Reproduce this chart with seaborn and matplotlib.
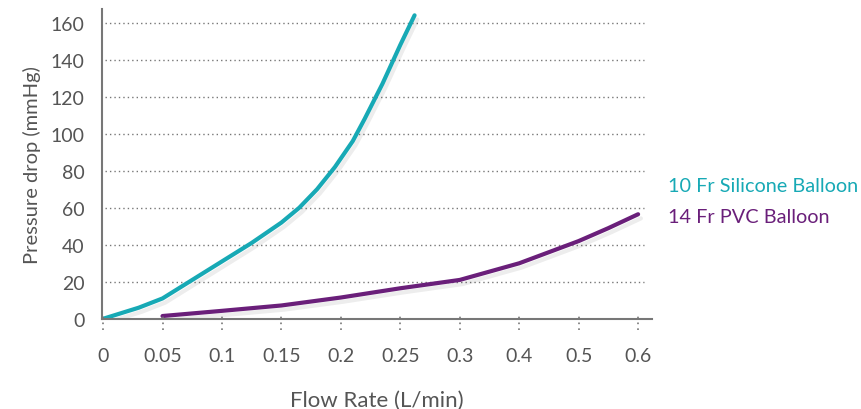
import numpy as np
import pandas as pd
import seaborn as sns
import matplotlib.pyplot as plt
import matplotlib.patheffects as pe

# Data
x_ticks = [0, 0.05, 0.1, 0.15, 0.2, 0.25, 0.3, 0.4, 0.5, 0.6]
y_ticks = [0, 20, 40, 60, 80, 100, 120, 140, 160]

silicone_flow = [0, 0.03, 0.05, 0.075, 0.1, 0.125, 0.15, 0.165, 0.18, 0.195, 0.21, 0.22, 0.235, 0.25, 0.262]
silicone_pressure = [0, 6, 11, 21, 31, 41, 52, 60, 70, 82, 96, 108, 127, 148, 164]

pvc_flow = [0.05, 0.1, 0.15, 0.2, 0.25, 0.3, 0.35, 0.4, 0.45, 0.5, 0.55, 0.6]
pvc_pressure = [1.5, 4.3, 7.2, 11.5, 16.5, 21, 25.5, 30, 36, 42, 49, 56.5]

names = ["10 Fr Silicone Balloon", "14 Fr PVC Balloon"]
colors = ["#17a9b5", "#6a1f7a"]

# the x axis is not linear: ticks are evenly spaced, so map flow -> tick position
tick_pos = np.arange(len(x_ticks))
def to_pos(flow):
    return np.interp(flow, x_ticks, tick_pos)

df = pd.concat([
    pd.DataFrame({"pos": to_pos(silicone_flow), "pressure": silicone_pressure, "series": names[0]}),
    pd.DataFrame({"pos": to_pos(pvc_flow), "pressure": pvc_pressure, "series": names[1]}),
])

sns.set_style("white")
plt.rcParams['font.family'] = ['Lato', 'DejaVu Sans']

fig = plt.figure(figsize=(8.61, 4.10), dpi=100)
ax = fig.add_axes([0.119, 0.22, 0.638, 0.756])

sns.lineplot(data=df, x="pos", y="pressure", hue="series", palette=colors,
             linewidth=3, sort=False, legend=False, ax=ax)
for line in ax.lines:
    line.set_solid_capstyle("round")
    line.set_solid_joinstyle("round")
    line.set_path_effects([pe.SimpleLineShadow(offset=(2, -3), shadow_color="k", alpha=0.07),
                           pe.Normal()])

ax.set_xlim(-0.01, 9.23)
ax.set_ylim(0, 167.5)
ax.set_xticks(tick_pos)
ax.set_xticklabels([f"{v:g}" for v in x_ticks])
ax.set_yticks(y_ticks)

# dotted horizontal grid
for y in y_ticks[1:]:
    ax.axhline(y, xmin=0.005, xmax=0.985, color="#777777", linewidth=1, linestyle=(0, (1, 2.2)), zorder=0)

# dotted tick marks through the x axis
ax.vlines(tick_pos, -0.035, 0.02, transform=ax.get_xaxis_transform(), colors="#777777",
          linewidth=1.2, linestyles=(0, (1, 2.5)), clip_on=False)

for s in ["top", "right"]:
    ax.spines[s].set_visible(False)
for s in ["left", "bottom"]:
    ax.spines[s].set_color("#777777")
    ax.spines[s].set_linewidth(1.5)

ax.tick_params(axis="both", length=0, labelsize=14, labelcolor="#555555")
ax.tick_params(axis="x", pad=20)
ax.tick_params(axis="y", pad=13)

ax.set_xlabel("Flow Rate (L/min)", fontsize=16, color="#555555", labelpad=19)
ax.set_ylabel("Pressure drop (mmHg)", fontsize=14.5, color="#555555", labelpad=7)

fig.text(668 / 861, 1 - 187 / 410, names[0], color=colors[0], fontsize=14.3, va="center", ha="left")
fig.text(668 / 861, 1 - 218 / 410, names[1], color=colors[1], fontsize=14.3, va="center", ha="left")

fig.savefig("out.png", dpi=100)
